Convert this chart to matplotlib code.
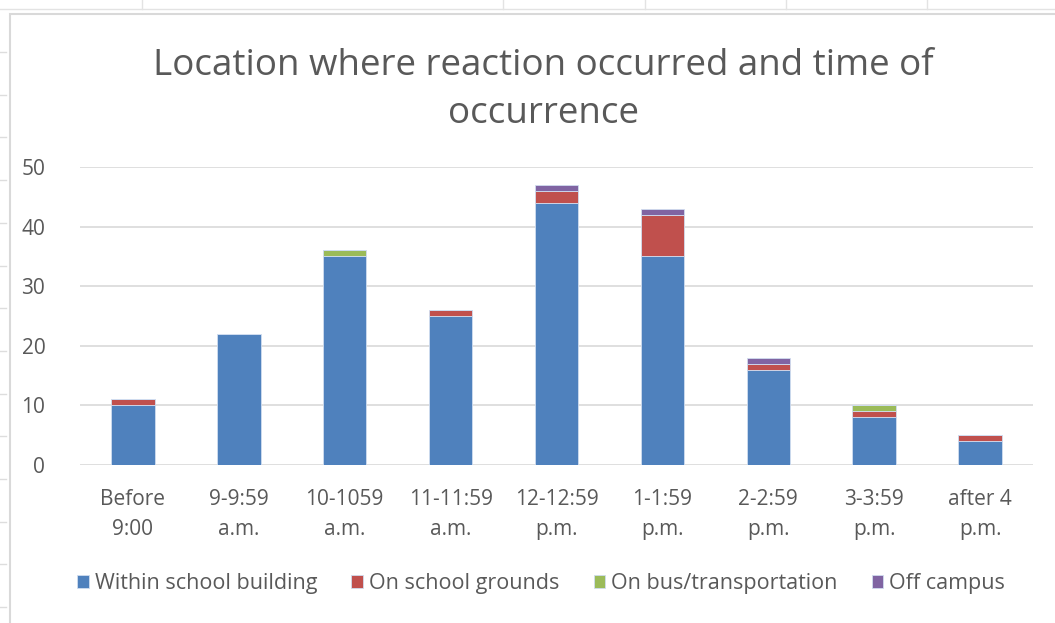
import matplotlib.pyplot as plt
import numpy as np
from matplotlib.lines import Line2D
from matplotlib.patches import Rectangle

categories = ["Before\n9:00", "9-9:59\na.m.", "10-1059\na.m.", "11-11:59\na.m.", "12-12:59\np.m.",
              "1-1:59\np.m.", "2-2:59\np.m.", "3-3:59\np.m.", "after 4\np.m."]
within_building = [10, 22, 35, 25, 44, 35, 16, 8, 4]
school_grounds = [1, 0, 0, 1, 2, 7, 1, 1, 1]
bus_transport = [0, 0, 1, 0, 0, 0, 0, 1, 0]
off_campus = [0, 0, 0, 0, 1, 1, 1, 0, 0]

series = [("Within school building", within_building, "#4F81BD"),
          ("On school grounds", school_grounds, "#C0504D"),
          ("On bus/transportation", bus_transport, "#9BBB59"),
          ("Off campus", off_campus, "#8064A2")]

plt.rcParams['font.family'] = ['Open Sans', 'DejaVu Sans']
txt = "#595959"

fig = plt.figure(figsize=(10.55, 6.23), dpi=100, facecolor='white')

# faint spreadsheet cell lines behind the chart
W, H = 1055, 623
fig.add_artist(Line2D([0, 1], [1 - 9/H, 1 - 9/H], color="#E3E3E3", lw=1, transform=fig.transFigure))
for xp in [142, 503, 645, 786, 927]:
    fig.add_artist(Line2D([xp/W, xp/W], [1 - 9/H, 1], color="#E3E3E3", lw=1, transform=fig.transFigure))
for yp in np.arange(52, 623, 42.7):
    fig.add_artist(Line2D([0, 6/W], [1 - yp/H, 1 - yp/H], color="#DDDDDD", lw=1, transform=fig.transFigure))
fig.add_artist(Rectangle((9.5/W, -0.01), 1.1, 1 - 14/H + 0.01, fill=False, edgecolor="#D9D9D9",
                         lw=1.5, transform=fig.transFigure))

ax = fig.add_axes([80/W, 1 - 465/H, (1033 - 80)/W, (465 - 167)/H])
x = np.arange(len(categories))
bottom = np.zeros(len(categories))
handles = []
for name, vals, col in series:
    b = ax.bar(x, vals, 0.41, bottom=bottom, color=col, edgecolor="#D0DDF0", linewidth=0.6,
               label=name, zorder=3)
    bottom += np.array(vals)
    handles.append(b)

ax.set_ylim(0, 50)
ax.set_xlim(-0.5, len(categories) - 0.5)
ax.set_yticks(range(0, 51, 10))
ax.yaxis.grid(True, color="#D9D9D9", lw=1.2, zorder=0)
for s in ax.spines.values():
    s.set_visible(False)
ax.tick_params(axis='both', length=0, labelsize=15, labelcolor=txt)
ax.tick_params(axis='y', pad=25)
ax.tick_params(axis='x', pad=17)
ax.set_xticks(x)
ax.set_xticklabels(categories, linespacing=1.6)

fig.text(543/W, 1 - 90/H, "Location where reaction occurred and time of\noccurrence", ha='center',
         va='center', fontsize=26.5, color=txt, linespacing=1.42)

fig.legend(handles=handles, loc='center', bbox_to_anchor=(541/W, 1 - 584/H), ncol=4, frameon=False,
           fontsize=15.5, labelcolor=txt, handlelength=0.55, handleheight=0.55, handletextpad=0.25,
           columnspacing=1.6)

fig.savefig("out.png", dpi=100)
